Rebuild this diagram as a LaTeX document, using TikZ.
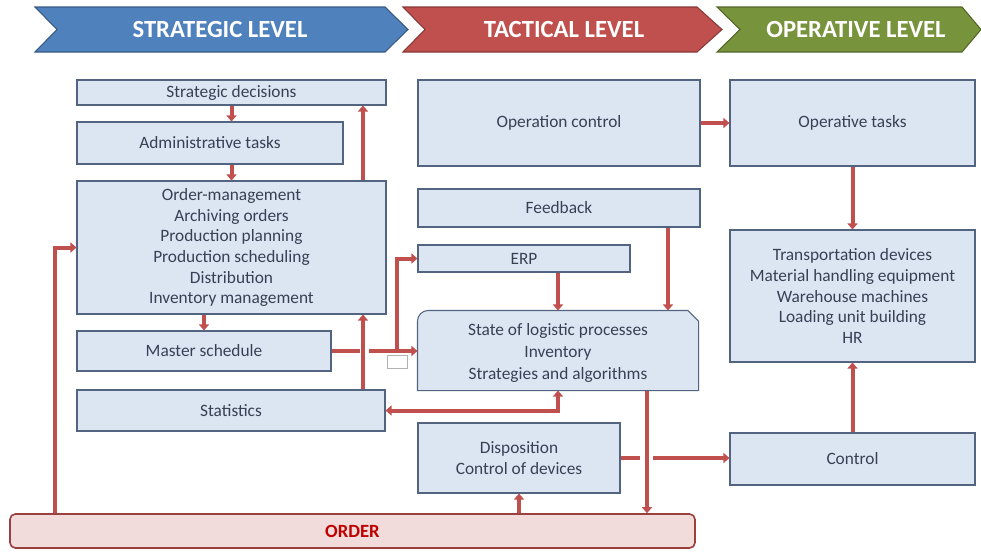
\documentclass[tikz,border=0pt]{standalone}
\usepackage{fontspec}
\setmainfont{Carlito}
\usetikzlibrary{arrows.meta}

\definecolor{boxfill}{RGB}{220,230,242}
\definecolor{boxline}{RGB}{82,100,128}
\definecolor{boxtext}{RGB}{55,65,85}
\definecolor{flowred}{RGB}{192,80,77}
\definecolor{stratblue}{RGB}{79,129,189}
\definecolor{tactred}{RGB}{192,80,77}
\definecolor{operagreen}{RGB}{119,147,60}
\definecolor{orderfill}{RGB}{242,220,219}
\definecolor{ordertext}{RGB}{192,0,0}

\begin{document}
\begin{tikzpicture}[x=0.75pt,y=0.75pt,yscale=-1,xscale=1,
	box/.style={draw=boxline,fill=boxfill,line width=0.8pt,text=boxtext,
		font=\fontsize{13}{15.5}\selectfont,align=center,inner sep=0pt},
	flow/.style={draw=flowred,line width=3pt,-{Triangle[length=4.5pt,width=7.5pt]}},
	twoway/.style={flow,{Triangle[length=4.5pt,width=7.5pt]}-{Triangle[length=4.5pt,width=7.5pt]}},
	plain/.style={draw=flowred,line width=3pt},
	level/.style={line width=0.8pt},
	leveltext/.style={text=white,font=\fontsize{18.5}{22}\selectfont\bfseries}]
	\useasboundingbox (0,0) rectangle (981,551);
	
	%Shape: Chevrons for the three levels
	\draw [level,draw=stratblue!70!black,fill=stratblue] (35,7) -- (385,7) -- (408,29.5) -- (385,52) -- (35,52) -- (57,29.5) -- cycle ;
	\draw [level,draw=tactred!70!black,fill=tactred] (403,7) -- (697,7) -- (722,29.5) -- (697,52) -- (403,52) -- (425,29.5) -- cycle ;
	\draw [level,draw=operagreen!70!black,fill=operagreen] (717,7) -- (962,7) -- (981,29.5) -- (962,52) -- (717,52) -- (740,29.5) -- cycle ;
	\node (strat) [leveltext] at (220,29.5) {STRATEGIC LEVEL};
	\node (tact) [leveltext] at (564,29.5) {TACTICAL LEVEL};
	\node (opera) [leveltext] at (856,29.5) {OPERATIVE LEVEL};
	
	%Boxes: strategic column
	\node (sdec) [box,minimum width=231.75pt,minimum height=18.75pt] at (231.5,92.5) {Strategic decisions};
	\node (admin) [box,minimum width=199.5pt,minimum height=31.5pt] at (210,143) {Administrative tasks};
	\node (ordmgmt) [box,minimum width=231.75pt,minimum height=99.75pt] at (231.5,247.5) {Order-management\\Archiving orders\\Production planning\\Production scheduling\\Distribution\\Inventory management};
	\node (master) [box,minimum width=190.5pt,minimum height=30pt] at (204,351) {Master schedule};
	\node (stats) [box,minimum width=231pt,minimum height=30.75pt] at (231,410.5) {Statistics};
	
	%Boxes: tactical column
	\node (opctrl) [box,minimum width=211.5pt,minimum height=64.5pt] at (559,123) {Operation control};
	\node (feedback) [box,minimum width=211.5pt,minimum height=28.5pt] at (559,208) {Feedback};
	\node (erp) [box,minimum width=159pt,minimum height=20.25pt] at (524,258.5) {ERP};
	\node (state) [box,draw=none,fill=none,minimum width=210pt,minimum height=59.25pt] at (558,350.5) {};
	\draw [draw=boxline,fill=boxfill,line width=0.8pt] (state.south west) -- (state.west) [rounded corners=8pt] -- (state.north west) [sharp corners] -- ([xshift=-8pt]state.north east) -- ([yshift=8pt]state.north east) -- (state.south east) -- cycle ;
	\node (statetext) [box,draw=none,fill=none,font=\fontsize{13}{16.2}\selectfont] at (558,353) {State of logistic processes\\Inventory\\Strategies and algorithms};
	\node (disp) [box,minimum width=151.5pt,minimum height=52.5pt] at (519,458) {Disposition\\Control of devices};
	
	%Boxes: operative column
	\node (optasks) [box,minimum width=183.75pt,minimum height=64.5pt] at (852.5,123) {Operative tasks};
	\node (transp) [box,minimum width=183.75pt,minimum height=99pt] at (852.5,296) {Transportation devices\\Material handling equipment\\Warehouse machines\\Loading unit building\\HR};
	\node (control) [box,minimum width=183.75pt,minimum height=39pt] at (852.5,459) {Control};
	
	%Order bar
	\node (order) [draw=flowred!80!black,fill=orderfill,line width=1.2pt,rounded corners=4pt,minimum width=513.75pt,minimum height=25.5pt,text=ordertext,font=\fontsize{14}{16}\selectfont\bfseries] at (352.5,531) {ORDER};
	
	%Small empty box under the junction
	\node (blank) [draw=gray!60,fill=white,line width=0.6pt,minimum width=15pt,minimum height=9.75pt,inner sep=0pt] at (397,361.5) {};
	
	%Helper coordinates for the vertical runs
	\coordinate (upx) at (363,0);
	\coordinate (brx) at (397,0);
	\coordinate (fbx) at (668,0);
	\coordinate (dnx) at (647,0);
	\coordinate (lfx) at (55,0);
	
	%Connectors
	\draw [flow] (sdec.south) -- (sdec.south |- admin.north);
	\draw [flow] (ordmgmt.north |- admin.south) -- (ordmgmt.north);
	\draw [flow] (master.north |- ordmgmt.south) -- (master.north);
	\draw [flow] (upx |- stats.north) -- (upx |- ordmgmt.south);
	\draw [flow] (upx |- ordmgmt.north) -- (upx |- sdec.south);
	\draw [plain] (master.east) -- ([xshift=-2.5pt]upx |- master.east);
	\draw [flow] ([xshift=4.5pt]upx |- master.east) -- (state.west |- master.east);
	\draw [flow] (brx |- master.east) |- (erp.west);
	\draw [flow] (state.north |- erp.south) -- (state.north);
	\draw [flow] (fbx |- feedback.south) -- (fbx |- state.north);
	\draw [twoway] (state.south) |- (stats.east);
	\draw [flow,line width=2.5pt] (dnx |- state.south) -- (dnx |- order.north);
	\draw [flow] (disp.south |- order.north) -- (disp.south);
	\draw [flow] (lfx |- order.north) |- (ordmgmt.west);
	\draw [plain] (disp.east) -- ([xshift=-5pt]dnx |- disp.east);
	\draw [flow] ([xshift=4.5pt]dnx |- disp.east) -- (control.west |- disp.east);
	\draw [flow] (opctrl.east) -- (optasks.west);
	\draw [flow] (optasks.south) -- (transp.north);
	\draw [flow] (control.north) -- (transp.south);
	
\end{tikzpicture}
\end{document}
